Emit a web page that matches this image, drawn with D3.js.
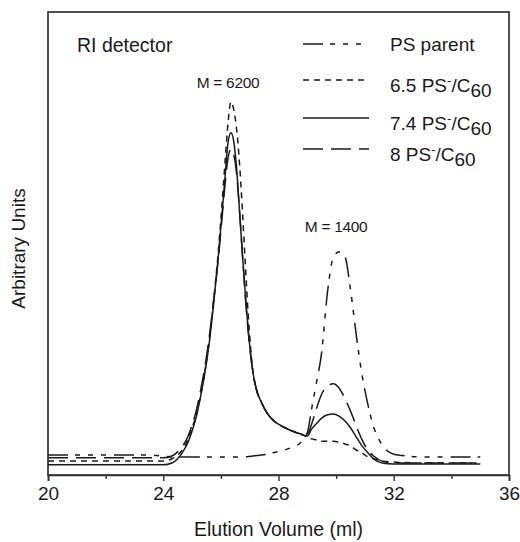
<!DOCTYPE html>
<html>
<head>
<meta charset="utf-8">
<script src="https://cdn.jsdelivr.net/npm/d3@7/dist/d3.min.js"></script>
<style>
  html, body { margin: 0; padding: 0; background: #fff; }
  svg { display: block; font-family: "Liberation Sans", Arial, Helvetica, sans-serif; }
</style>
</head>
<body>
<svg id="chart" width="520" height="542"></svg>
<script>
// Elution volume grid (ml) shared by all traces
const volume = [20, 22, 23.5, 24.0, 24.3, 24.5, 24.7, 24.85, 25.0, 25.15, 25.3, 25.45, 25.6, 25.75, 25.9,
  26.05, 26.15, 26.25, 26.35, 26.45, 26.55, 26.65, 26.75, 26.85, 26.95, 27.1, 27.25, 27.4, 27.6, 27.8,
  28.1, 28.4, 28.75, 29.0, 29.15, 29.3, 29.5, 29.7, 29.9, 30.1, 30.3, 30.5, 30.7, 30.9, 31.1, 31.3,
  31.6, 32.0, 33, 35];

// RI detector response (arbitrary units)
const psParent = [4.3, 4.3, 4.3, 4.1, 3.9, 3.9, 3.9, 3.9, 3.9, 3.9, 3.9, 3.9, 3.9, 3.9, 3.9,
  3.9, 3.9, 3.9, 3.9, 3.9, 3.9, 3.9, 3.9, 3.9, 4.0, 4.1, 4.2, 4.3, 4.5, 4.8,
  5.2, 5.8, 6.9, 9.1, 14.3, 19.4, 26.6, 39.5, 46.9, 48.2, 47.3, 40.0, 30.2, 21.6, 15.3, 10.4,
  6.5, 4.5, 3.9, 3.9];

const ps65 = [3.0, 3.0, 3.0, 3.0, 3.5, 4.3, 5.8, 7.6, 10.2, 13.0, 17.3, 22.7, 29.2, 37.8, 47.5,
  59.4, 68.0, 76.2, 80.6, 78.8, 74.5, 67.0, 56.8, 45.4, 34.6, 23.1, 18.1, 15.8, 13.4, 11.9,
  10.6, 9.7, 8.9, 8.2, 7.8, 7.6, 7.3, 7.3, 7.3, 7.1, 6.7, 6.3, 5.4, 4.8, 3.9, 3.5,
  3.0, 2.8, 2.6, 2.6];

const ps74 = [2.2, 2.2, 2.2, 2.2, 2.6, 3.5, 5.2, 6.9, 9.5, 12.7, 17.1, 22.2, 28.7, 37.1, 46.4,
  57.2, 64.8, 71.9, 73.9, 71.9, 65.9, 56.8, 47.5, 38.9, 31.3, 22.7, 18.1, 15.8, 13.4, 11.9,
  10.6, 9.7, 8.9, 8.4, 9.9, 11.0, 12.3, 13.0, 13.2, 12.7, 11.7, 10.2, 8.2, 6.3, 4.8, 3.5,
  2.6, 2.4, 2.4, 2.4];

const ps8 = [3.7, 3.7, 3.7, 3.7, 4.1, 5.0, 6.5, 8.2, 10.8, 14.0, 18.4, 23.5, 30.0, 37.8, 46.0,
  56.2, 63.1, 68.5, 70.4, 69.1, 64.8, 56.8, 47.5, 38.4, 30.9, 22.7, 18.1, 15.8, 13.4, 11.9,
  10.6, 9.7, 8.9, 8.9, 11.0, 14.0, 17.5, 19.2, 19.7, 18.8, 16.6, 13.8, 10.6, 7.6, 5.4, 4.1,
  3.0, 2.6, 2.6, 2.6];

// Axis ticks
const majorTicks = [20, 24, 28, 32, 36];
const minorTicks = [22, 26, 30, 34];

// Peak annotations (text anchor in data units)
const peakLabels = [
  { text: "M = 6200", x: 26.25, y: 83.6 },
  { text: "M = 1400", x: 30.0, y: 52.5 }
];

// Traces and their legend names
const series = [
  { name: "PS parent", values: psParent, dash: "20,7,5,8,5,8,5,8" },
  { name: "6.5", values: ps65, dash: "6,5" },
  { name: "7.4", values: ps74, dash: null },
  { name: "8", values: ps8, dash: "20,8" }
];

const svg = d3.select("#chart");
const margin = { left: 48, right: 11, top: 12, bottom: 67 };
const W = 520, H = 542;
const x = d3.scaleLinear().domain([20, 36]).range([margin.left, W - margin.right]);
const y = d3.scaleLinear().domain([0, 100]).range([H - margin.bottom, margin.top]);

const ink = "#1a1a1a";

// Frame
svg.append("rect")
  .attr("x", x(20)).attr("y", y(100))
  .attr("width", x(36) - x(20)).attr("height", y(0) - y(100))
  .attr("fill", "none").attr("stroke", "#333").attr("stroke-width", 1.7);

// Bottom axis: major ticks with labels
const xAxis = d3.axisBottom(x).tickValues(majorTicks).tickSize(6).tickPadding(6)
  .tickFormat(d3.format("d"));
const gx = svg.append("g").attr("transform", `translate(0,${y(0)})`).call(xAxis);
gx.select(".domain").attr("stroke", "#333").attr("stroke-width", 1.7);
gx.selectAll(".tick line").attr("stroke", "#333").attr("stroke-width", 1.4);
gx.selectAll(".tick text").attr("font-size", 19).attr("fill", ink)
  .attr("font-family", "Liberation Sans, Arial, sans-serif");

// Minor ticks
const xMinor = d3.axisBottom(x).tickValues(minorTicks).tickSize(4).tickFormat("");
const gm = svg.append("g").attr("transform", `translate(0,${y(0)})`).call(xMinor);
gm.select(".domain").remove();
gm.selectAll(".tick line").attr("stroke", "#333").attr("stroke-width", 1.4);

// Axis titles
svg.append("text")
  .attr("x", (x(20) + x(36)) / 2).attr("y", 536)
  .attr("text-anchor", "middle").attr("font-size", 19.5).attr("fill", ink)
  .text("Elution Volume (ml)");

svg.append("text")
  .attr("transform", `translate(25,${(y(0) + y(100)) / 2 + 5}) rotate(-90)`)
  .attr("text-anchor", "middle").attr("font-size", 19).attr("fill", ink)
  .text("Arbitrary Units");

// Traces
const line = d3.line()
  .x((d, i) => x(volume[i]))
  .y(d => y(d))
  .curve(d3.curveMonotoneX);

svg.append("g").selectAll("path")
  .data(series)
  .join("path")
  .attr("d", s => line(s.values))
  .attr("fill", "none")
  .attr("stroke", ink)
  .attr("stroke-width", 1.5)
  .attr("stroke-dasharray", s => s.dash);

// Peak labels
svg.append("g").selectAll("text")
  .data(peakLabels)
  .join("text")
  .attr("x", d => x(d.x))
  .attr("y", d => y(d.y))
  .attr("text-anchor", "middle")
  .attr("font-size", 15.5)
  .attr("letter-spacing", -0.3)
  .attr("fill", ink)
  .text(d => d.text);

// Detector label
svg.append("text")
  .attr("x", 77).attr("y", 52)
  .attr("font-size", 19.5).attr("fill", ink)
  .text("RI detector");

// Legend
const legendRows = [44, 80, 118, 149];
const lg = svg.append("g");
series.forEach((s, i) => {
  const ly = legendRows[i];
  lg.append("line")
    .attr("x1", 303).attr("x2", 369).attr("y1", ly).attr("y2", ly)
    .attr("stroke", ink).attr("stroke-width", 1.5)
    .attr("stroke-dasharray", s.dash);
  const t = lg.append("text")
    .attr("x", 390).attr("y", ly + (i === 0 ? 7 : 12))
    .attr("font-size", 19).attr("fill", ink);
  if (i === 0) {
    t.text(s.name);
  } else {
    t.append("tspan").text(s.name + " PS");
    t.append("tspan").attr("dy", -7).attr("font-size", 13).text("-");
    t.append("tspan").attr("dy", 7).text("/C");
    t.append("tspan").attr("dy", 5).attr("font-size", 19).text("60");
  }
});
</script>
</body>
</html>
